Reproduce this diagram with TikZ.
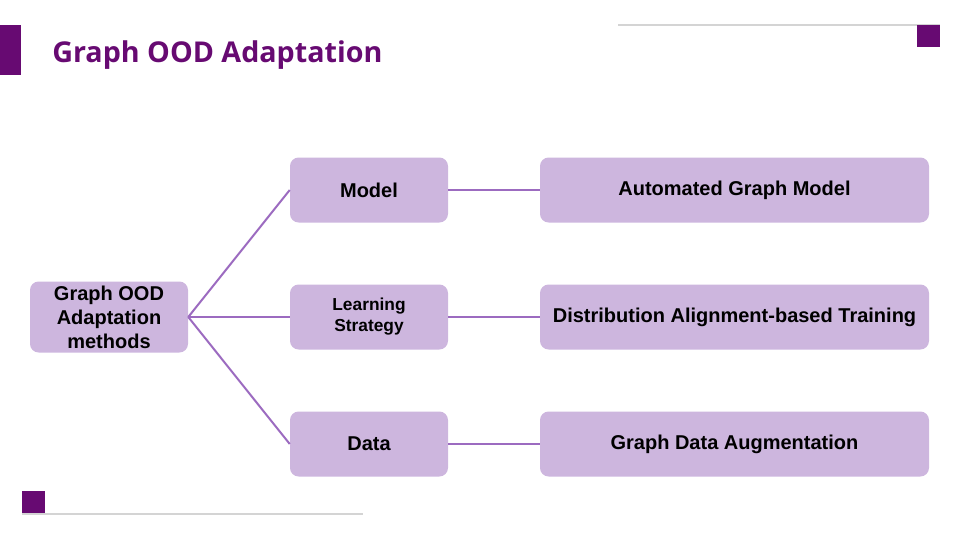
\documentclass[tikz,border=0pt]{standalone}
\usepackage{fontspec}
\setmainfont{Liberation Sans}
\newfontfamily\titlefont{Open Sans}
\definecolor{brand}{HTML}{670A72}
\definecolor{boxfill}{HTML}{CDB6DE}
\definecolor{linkc}{HTML}{9C6BC0}
\definecolor{rulegray}{HTML}{D4D4D4}
\tikzset{
  box/.style={fill=boxfill, rounded corners=6.5pt, inner sep=0pt, align=center,
    font=\fontsize{15}{18}\selectfont\bfseries, text=black},
  rootbox/.style={box, minimum width=118.5pt, minimum height=53.25pt},
  midbox/.style={box, minimum width=118.5pt, minimum height=48.75pt},
  rightbox/.style={box, minimum width=291.75pt, minimum height=48.75pt},
  link/.style={draw=linkc, line width=1.5pt},
  grayrule/.style={draw=rulegray, line width=1.5pt},
}
\begin{document}
\begin{tikzpicture}[x=0.75pt, y=-0.75pt]
\useasboundingbox (0,0) rectangle (960,540);
% decorations
\fill[brand] (0,25) rectangle (21,75);
\path[grayrule] (618,25) -- (940,25);
\fill[brand] (917,25) rectangle (940,47);
\path[grayrule] (22,514) -- (363,514);
\fill[brand] (22,491) rectangle (45,513);
\node[anchor=base west, inner sep=0pt, text=brand, font=\titlefont\fontsize{21.5}{26}\selectfont\bfseries] (title) at (52,62) {Graph OOD Adaptation};
% nodes
\node[rootbox] (root) at (109,317) {Graph OOD\\Adaptation\\methods};
\node[midbox] (model) at (369,190) {Model};
\node[midbox, font=\fontsize{13}{15.75}\selectfont\bfseries] (learn) at (369,317) {Learning\\Strategy};
\node[midbox] (data) at (369,444) {Data};
\node[rightbox] (agm) at (734.5,190) {Automated Graph Model};
\node[rightbox] (dat) at (734.5,317) {Distribution Alignment-based Training};
\node[rightbox] (gda) at (734.5,444) {Graph Data Augmentation};
% connectors
\path[link] (root.east) -- (model.west);
\path[link] (root.east) -- (learn.west);
\path[link] (root.east) -- (data.west);
\path[link] (model.east) -- (agm.west);
\path[link] (learn.east) -- (dat.west);
\path[link] (data.east) -- (gda.west);
\end{tikzpicture}
\end{document}
